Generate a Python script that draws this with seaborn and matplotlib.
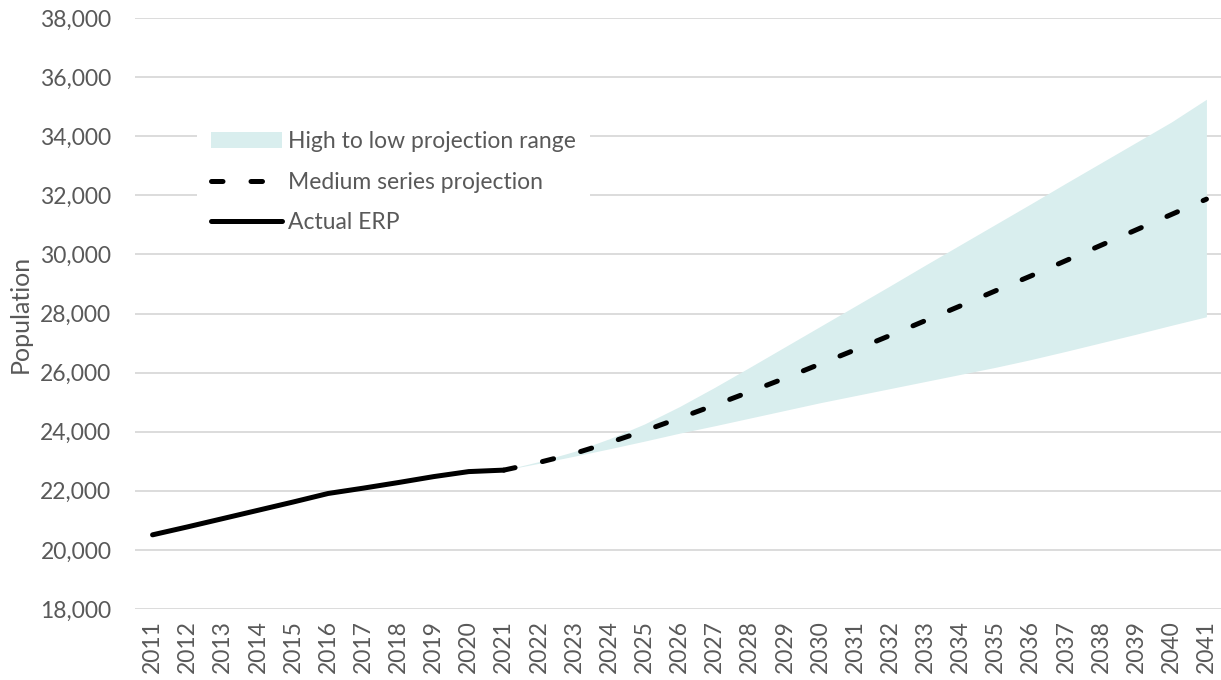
import matplotlib
matplotlib.use("Agg")
import matplotlib.pyplot as plt
import matplotlib.patches as mpatches
import matplotlib.lines as mlines
import matplotlib.ticker as mticker
import pandas as pd
import seaborn as sns

# --- data ---
actual_years = list(range(2011, 2022))
actual_erp = [20510, 20780, 21060, 21340, 21620, 21910,
              22090, 22280, 22480, 22650, 22700]

proj_years = list(range(2021, 2042))
medium = [22700, 22960, 23260, 23630, 24030, 24460, 24900, 25350, 25810, 26290,
          26770, 27260, 27760, 28260, 28770, 29270, 29790, 30310, 30830, 31350, 31870]
high = [22700, 22990, 23330, 23760, 24260, 24850, 25500, 26180, 26870, 27560,
        28250, 28940, 29640, 30330, 31020, 31710, 32410, 33100, 33790, 34480, 35250]
low = [22700, 22930, 23170, 23420, 23680, 23950, 24200, 24460, 24720, 24980,
       25220, 25460, 25700, 25940, 26180, 26440, 26720, 27010, 27300, 27600, 27890]

labels = ["High to low projection range", "Medium series projection", "Actual ERP"]

TEXT = "#595959"
GRID = "#d9d9d9"
BAND = "#d9eeee"
FS = 16.5

sns.set_theme(style="white")
plt.rcParams["font.family"] = ["Lato", "DejaVu Sans"]

actual_df = pd.DataFrame({"year": actual_years, "population": actual_erp})
proj_df = pd.DataFrame({"year": proj_years, "medium": medium, "high": high, "low": low})

fig = plt.figure(figsize=(12.21, 6.8), dpi=100)
ax = fig.add_axes([135 / 1221, 71 / 680, 1089 / 1221, 591 / 680])

ax.fill_between(proj_df["year"], proj_df["low"], proj_df["high"],
                color=BAND, linewidth=0, zorder=1)
sns.lineplot(data=proj_df, x="year", y="medium", ax=ax, color="black",
             linewidth=3.6, zorder=3)
ax.lines[-1].set_dashes((2.3, 5.6))
ax.lines[-1].set_dash_capstyle("round")
sns.lineplot(data=actual_df, x="year", y="population", ax=ax, color="black",
             linewidth=3.6, zorder=4)
ax.lines[-1].set_solid_capstyle("round")

ax.set_xlim(2010.5, 2041.5)
ax.set_ylim(18000, 38000)
ax.set_xticks(range(2011, 2042))
ax.set_xticklabels([str(y) for y in range(2011, 2042)], rotation=90)
ax.yaxis.set_major_locator(mticker.MultipleLocator(2000))
ax.yaxis.set_major_formatter(mticker.FuncFormatter(lambda v, p: f"{int(v):,}"))

ax.grid(axis="y", color=GRID, linewidth=1.3, zorder=0)
ax.set_axisbelow(True)
for s in ax.spines.values():
    s.set_visible(False)

ax.tick_params(axis="y", length=0, pad=17, labelsize=FS, labelcolor=TEXT)
ax.tick_params(axis="x", length=0, pad=8, labelsize=FS, labelcolor=TEXT)
ax.set_xlabel("")
ax.set_ylabel("Population", fontsize=18, color=TEXT, labelpad=6)

handles = [
    mpatches.Patch(facecolor=BAND, edgecolor="none"),
    mlines.Line2D([], [], color="black", linewidth=3.6, dashes=(2.3, 5.6),
                  dash_capstyle="round"),
    mlines.Line2D([], [], color="black", linewidth=3.6, solid_capstyle="round"),
]
leg = ax.legend(handles, labels, loc="upper left",
                bbox_to_anchor=(186 / 1221, 1 - 106 / 680),
                bbox_transform=fig.transFigure,
                fontsize=FS, handlelength=3.1, handletextpad=0.25,
                labelspacing=0.85, borderpad=0.6, frameon=True,
                fancybox=False, framealpha=1)
leg.get_frame().set_facecolor("white")
leg.get_frame().set_edgecolor("none")
for t in leg.get_texts():
    t.set_color(TEXT)

fig.savefig("out.png", dpi=100)
